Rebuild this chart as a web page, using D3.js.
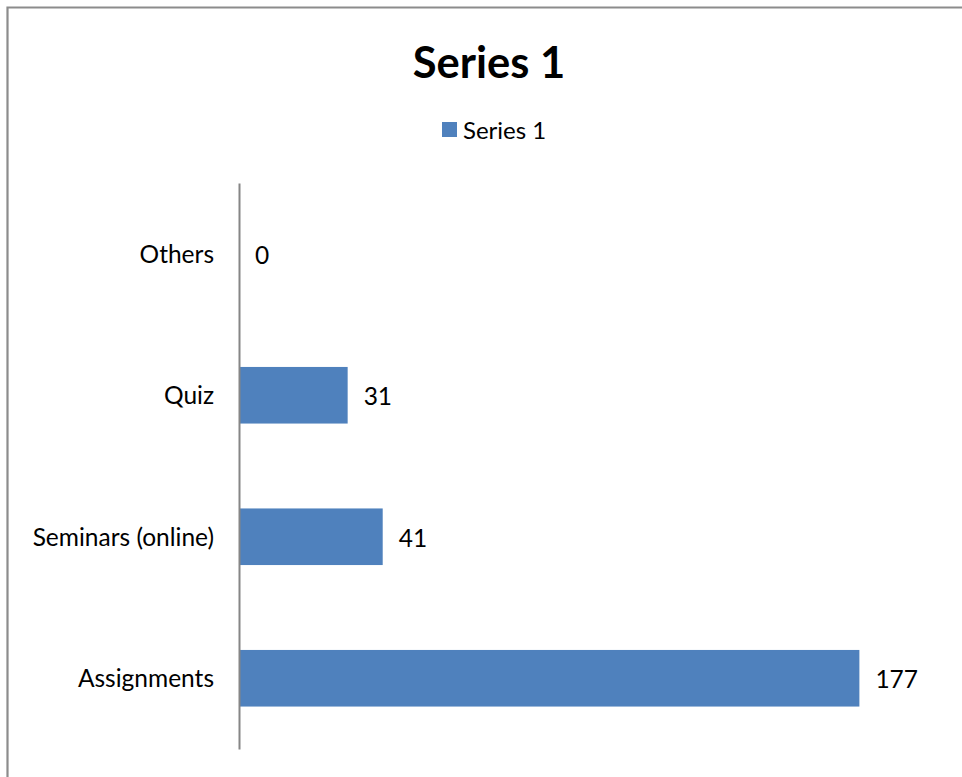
<!DOCTYPE html>
<html><head><meta charset="utf-8">
<script src="https://cdn.jsdelivr.net/npm/d3@7"></script>
<style>html,body{margin:0;padding:0;background:#fff;}svg{display:block;}</style>
</head><body>
<script>
const categories = ["Others", "Quiz", "Seminars (online)", "Assignments"];
const values = [0, 31, 41, 177];
const seriesName = "Series 1";
const chartTitle = "Series 1";

const W = 962, H = 777;
const FONT = "Lato, 'Open Sans', sans-serif";
const svg = d3.select("body").append("svg").attr("width", W).attr("height", H);

// frame
svg.append("path").attr("d", `M7.5,${H+5} L7.5,7.5 L${W+5},7.5`)
  .attr("fill", "none").attr("stroke", "#8c8c8c").attr("stroke-width", 2.2);

const x = d3.scaleLinear().domain([0, 200]).range([239, 940]);
const y = d3.scaleBand().domain(categories).range([183, 749]).paddingInner(0.6).paddingOuter(0.3);

// bars
svg.selectAll("rect.bar").data(categories).join("rect").attr("class", "bar")
  .attr("x", x(0)).attr("y", d => y(d))
  .attr("width", (d, i) => x(values[i]) - x(0))
  .attr("height", y.bandwidth())
  .attr("fill", "#4F81BD");

// axis
const axis = svg.append("g").attr("transform", `translate(${x(0)},0)`)
  .call(d3.axisLeft(y).tickSize(0).tickPadding(25));
axis.select(".domain").attr("stroke", "#868686").attr("stroke-width", 2);
axis.selectAll("text").attr("font-family", FONT).attr("font-size", 24.5).attr("fill", "#000")
  .attr("dy", "0.36em");

// value labels
svg.selectAll("text.val").data(categories).join("text").attr("class", "val")
  .attr("x", (d, i) => x(values[i]) + 16)
  .attr("y", d => y(d) + y.bandwidth() / 2 + 1)
  .attr("dy", "0.36em")
  .attr("font-family", FONT).attr("font-size", 24.5).attr("fill", "#000")
  .text((d, i) => values[i]);

// title
svg.append("text").attr("x", 489).attr("y", 78).attr("text-anchor", "middle")
  .attr("font-family", FONT).attr("font-weight", "bold").attr("font-size", 43.5)
  .attr("fill", "#000").text(chartTitle);

// legend
svg.append("rect").attr("x", 442).attr("y", 122).attr("width", 15).attr("height", 15).attr("fill", "#4F81BD");
svg.append("text").attr("x", 463).attr("y", 130).attr("dy", "0.36em")
  .attr("font-family", FONT).attr("font-size", 24).attr("fill", "#000").text(seriesName);
</script>
</body></html>
